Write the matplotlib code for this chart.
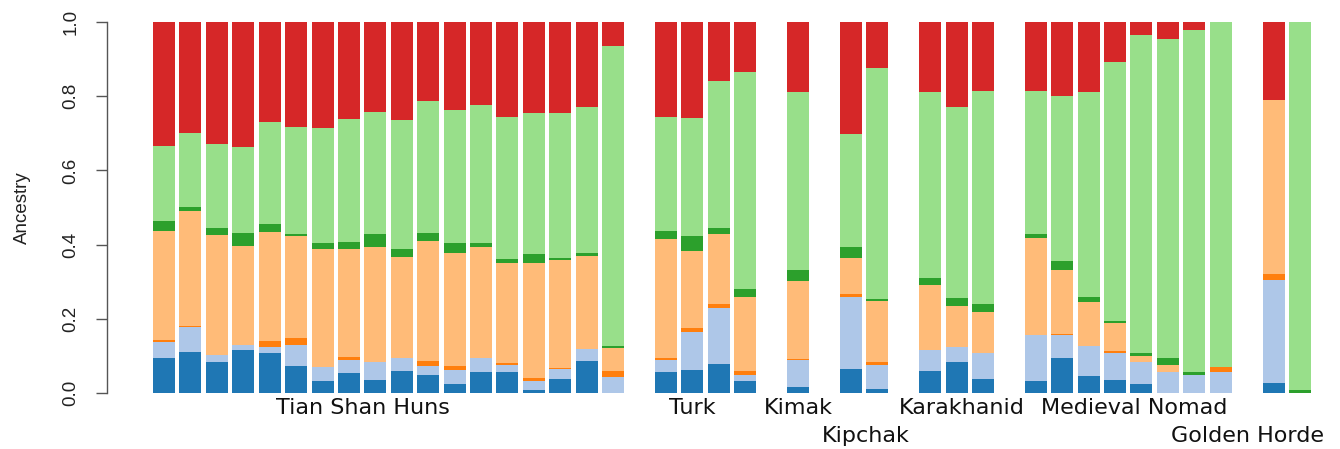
import matplotlib
matplotlib.use("Agg")
import matplotlib.pyplot as plt
import matplotlib.transforms as mtransforms
import numpy as np

# ---------------- data ----------------
groups = ["Tian Shan Huns", "Turk", "Kimak", "Kipchak", "Karakhanid",
          "Medieval Nomad", "Golden Horde"]
group_sizes = [18, 4, 1, 2, 3, 8, 2]

comp_names = ["K1", "K2", "K3", "K4", "K5", "K6", "K7"]
comp_colors = ["#1f77b4", "#aec7e8", "#ff7f0e", "#ffbb78",
               "#2ca02c", "#98df8a", "#d62728"]

# each component: one value per individual (38 individuals)
k1_dark_blue = [0.093, 0.110, 0.083, 0.116, 0.107, 0.073, 0.032, 0.055, 0.035,
                0.059, 0.049, 0.024, 0.056, 0.056, 0.008, 0.038, 0.086, 0.000,
                0.056, 0.062, 0.078, 0.032,
                0.017,
                0.065, 0.011,
                0.059, 0.083, 0.038,
                0.032, 0.094, 0.046, 0.035, 0.024, 0.000, 0.000, 0.000,
                0.028, 0.000]
k2_light_blue = [0.044, 0.069, 0.020, 0.013, 0.016, 0.056, 0.039, 0.034, 0.048,
                 0.036, 0.024, 0.038, 0.037, 0.020, 0.024, 0.027, 0.033, 0.044,
                 0.034, 0.103, 0.152, 0.017,
                 0.072,
                 0.195, 0.065,
                 0.057, 0.040, 0.069,
                 0.123, 0.062, 0.082, 0.072, 0.059, 0.056, 0.049, 0.056,
                 0.277, 0.000]
k3_orange = [0.006, 0.002, 0.000, 0.000, 0.017, 0.018, 0.000, 0.007, 0.000,
             0.000, 0.013, 0.011, 0.000, 0.004, 0.009, 0.003, 0.000, 0.015,
             0.003, 0.009, 0.009, 0.011,
             0.003,
             0.006, 0.007,
             0.000, 0.000, 0.000,
             0.000, 0.003, 0.000, 0.006, 0.000, 0.000, 0.000, 0.014,
             0.016, 0.000]
k4_light_orange = [0.295, 0.309, 0.322, 0.268, 0.295, 0.277, 0.316, 0.291, 0.311,
                   0.271, 0.325, 0.304, 0.300, 0.270, 0.309, 0.291, 0.250, 0.061,
                   0.322, 0.210, 0.189, 0.198,
                   0.210,
                   0.097, 0.166,
                   0.175, 0.112, 0.112,
                   0.262, 0.172, 0.116, 0.075, 0.018, 0.020, 0.000, 0.000,
                   0.469, 0.000]
k5_dark_green = [0.025, 0.011, 0.020, 0.033, 0.020, 0.005, 0.016, 0.019, 0.034,
                 0.021, 0.019, 0.027, 0.010, 0.011, 0.024, 0.004, 0.008, 0.006,
                 0.021, 0.039, 0.016, 0.021,
                 0.030,
                 0.030, 0.004,
                 0.020, 0.022, 0.021,
                 0.011, 0.025, 0.016, 0.007, 0.006, 0.018, 0.007, 0.000,
                 0.000, 0.007]
k6_light_green = [0.202, 0.199, 0.226, 0.234, 0.276, 0.289, 0.311, 0.332, 0.330,
                  0.349, 0.357, 0.360, 0.373, 0.382, 0.382, 0.393, 0.395, 0.810,
                  0.307, 0.319, 0.397, 0.586,
                  0.479,
                  0.304, 0.622,
                  0.500, 0.515, 0.574,
                  0.386, 0.444, 0.551, 0.698, 0.858, 0.860, 0.922, 0.930,
                  0.000, 0.993]
k7_red = [0.336, 0.300, 0.330, 0.336, 0.269, 0.282, 0.286, 0.262, 0.242,
          0.264, 0.213, 0.237, 0.224, 0.258, 0.244, 0.244, 0.228, 0.064,
          0.258, 0.258, 0.159, 0.136,
          0.190,
          0.303, 0.125,
          0.190, 0.228, 0.186,
          0.186, 0.200, 0.189, 0.107, 0.035, 0.046, 0.022, 0.000,
          0.210, 0.000]

components = [k1_dark_blue, k2_light_blue, k3_orange, k4_light_orange,
              k5_dark_green, k6_light_green, k7_red]

y_ticks = [0.0, 0.2, 0.4, 0.6, 0.8, 1.0]
y_tick_labels = ["0.0", "0.2", "0.4", "0.6", "0.8", "1.0"]

# ---------------- layout ----------------
W, H = 1340, 449
fig = plt.figure(figsize=(W / 100, H / 100), dpi=100)

bar_w = 1.0
pitch = 1.2
x_left_data = -2.589
x_right_data = 53.19
ax_left_px, ax_right_px = 107, 1335
ax_bottom_px, ax_top_px = 393, 22
ax = fig.add_axes([ax_left_px / W, (H - ax_bottom_px) / H,
                   (ax_right_px - ax_left_px) / W,
                   (ax_bottom_px - ax_top_px) / H])

# bar positions: one blank slot between groups
positions = []
slot = 0
for n in group_sizes:
    for i in range(n):
        positions.append(slot * pitch)
        slot += 1
    slot += 1
positions = np.array(positions)

bottom = np.zeros(len(positions))
for vals, col in zip(components, comp_colors):
    v = np.array(vals)
    ax.bar(positions, v, width=bar_w, bottom=bottom, color=col,
           edgecolor="none", linewidth=0, align="center")
    bottom = bottom + v

ax.set_xlim(x_left_data, x_right_data)
ax.set_ylim(0, 1)

for s in ["top", "right", "bottom"]:
    ax.spines[s].set_visible(False)
ax.spines["left"].set_bounds(0, 1)
ax.spines["left"].set_color("#555555")
ax.spines["left"].set_linewidth(1.0)
ax.set_xticks([])
ax.set_yticks(y_ticks)
ax.set_yticklabels(y_tick_labels, rotation=90, va="center",
                   family="Liberation Sans", fontsize=13.5, color="#222222")
ax.tick_params(axis="y", length=8, width=1.0, color="#555555", pad=12)

fig.text(22.5 / W, (H - 207.5) / H, "Ancestry", rotation=90,
         ha="center", va="center", family="Liberation Sans",
         fontsize=13.5, color="#222222")

# group labels
label_x = [9.02, 24.0, 28.8, 31.9, 36.25, 44.06, 49.2]
label_row = [0, 0, 0, 1, 0, 0, 1]
row_baseline_px = [414, 442]
trans = mtransforms.blended_transform_factory(ax.transData, fig.transFigure)
for name, lx, r in zip(groups, label_x, label_row):
    fig.text(lx, (H - row_baseline_px[r]) / H, name, transform=trans,
             ha="center", va="baseline", family="DejaVu Sans",
             fontsize=16, color="#111111")

fig.savefig("out.png", dpi=100)
